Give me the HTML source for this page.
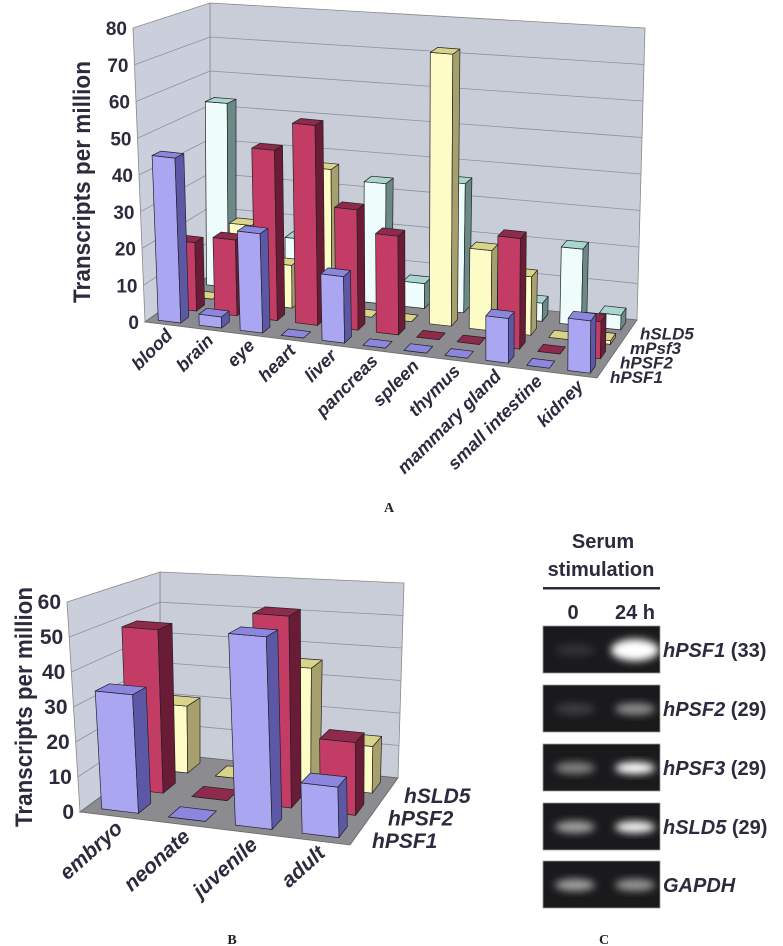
<!DOCTYPE html>
<html><head><meta charset="utf-8"><style>
html,body{margin:0;padding:0;background:#fff;}
svg{display:block;font-family:"Liberation Sans",sans-serif;}
</style></head><body>
<svg id="fig" width="783" height="946" viewBox="0 0 783 946" xmlns="http://www.w3.org/2000/svg">
<defs><filter id="blur" x="-50%" y="-50%" width="200%" height="200%"><feGaussianBlur stdDeviation="4"/></filter></defs>
<g id="chartA"></g>
<g id="chartB"></g>
<g id="panelC">
  <text x="603" y="548" text-anchor="middle" font-size="20" font-weight="bold" fill="#2b2b3d">Serum</text>
  <text x="601" y="576" text-anchor="middle" font-size="20" font-weight="bold" fill="#2b2b3d">stimulation</text>
  <rect x="543" y="587" width="117" height="2.5" fill="#2b2b3d"/>
  <text x="573" y="619" text-anchor="middle" font-size="20" font-weight="bold" fill="#2b2b3d">0</text>
  <text x="635" y="619" text-anchor="middle" font-size="20" font-weight="bold" fill="#2b2b3d">24 h</text>
</g>
<text x="389" y="512" text-anchor="middle" font-family="Liberation Serif,serif" font-weight="bold" font-size="14" fill="#222">A</text>
<text x="232" y="944" text-anchor="middle" font-family="Liberation Serif,serif" font-weight="bold" font-size="14" fill="#222">B</text>
<text x="604" y="944" text-anchor="middle" font-family="Liberation Serif,serif" font-weight="bold" font-size="14" fill="#222">C</text>
</svg>
<script>
// ---- Chart A data ----
const categoriesA = ["blood","brain","eye","heart","liver","pancreas","spleen","thymus","mammary gland","small intestine","kidney"];
const seriesNamesA = ["hPSF1","hPSF2","mPsf3","hSLD5"];
const hPSF1_A = [45, 3, 27, 0, 18, 0, 0, 0, 12, 0, 14];
const hPSF2_A = [19, 21, 47, 55, 33, 27, 0, 0, 30, 0, 10];
const mPsf3_A = [0, 22, 12, 40, 0, 0, 75, 22, 16, 0, 1];
const hSLD5_A = [53, 2, 16, 8, 34, 7, 36, 15, 5, 21, 4];
const ticksA = [0,10,20,30,40,50,60,70,80];
// ---- Chart B data ----
const categoriesB = ["embryo","neonate","juvenile","adult"];
const seriesNamesB = ["hPSF1","hPSF2","hSLD5"];
const hPSF1_B = [34, 0, 54, 14];
const hPSF2_B = [49, 0, 56, 21];
const hSLD5_B = [21, 0, 36, 14];
const ticksB = [0,10,20,30,40,50,60];
// ---- Panel C data ----
const gelGenes = ["hPSF1","hPSF2","hPSF3","hSLD5","GAPDH"];
const gelCycles = ["(33)","(29)","(29)","(29)",""];
const lane0Intensity = [0.1, 0.15, 0.45, 0.6, 0.6];
const lane24Intensity = [1.0, 0.5, 1.0, 0.95, 0.55];

const NS = "http://www.w3.org/2000/svg";
const COLORS = {
  purple:{front:"#aaa6f2",side:"#5d58a6",top:"#8c86de"},
  red:{front:"#c23c66",side:"#6a1c36",top:"#8e2a4c"},
  yellow:{front:"#fdfbc6",side:"#a8a06c",top:"#d9d489"},
  white:{front:"#eefcfb",side:"#6b8a87",top:"#a9d6cf"}
};
function mk(tag, parent){const e=document.createElementNS(NS,tag);parent.appendChild(e);return e;}
function lerp(a,b,t){return [a[0]+(b[0]-a[0])*t,a[1]+(b[1]-a[1])*t];}
function makeProj(cfg){
  return function(u,w,v){
    const fb=lerp(cfg.FL,cfg.FR,u), bb=lerp(cfg.BL,cfg.BR,u), bot=lerp(fb,bb,w);
    const ft=lerp(cfg.TFL,cfg.TFR,u), bt=lerp(cfg.TBL,cfg.TBR,u), top=lerp(ft,bt,w);
    return lerp(bot,top,v/cfg.vmax);
  };
}
function pts(a){return a.map(p=>p[0].toFixed(1)+","+p[1].toFixed(1)).join(" ");}

function drawChart(g, cfg, categories, seriesNames, series, colors, ticks){
  const P=makeProj(cfg), n=categories.length, m=series.length;
  const back=mk("polygon",g);
  back.setAttribute("points",pts([P(0,1,0),P(0,1,cfg.vmax),P(1,1,cfg.vmax),P(1,1,0)]));
  back.setAttribute("fill","#c9cdd8");back.setAttribute("stroke","#888");back.setAttribute("stroke-width","0.8");
  
  
  const left=mk("polygon",g);
  left.setAttribute("points",pts([P(0,0,0),P(0,0,cfg.vmax),P(0,1,cfg.vmax),P(0,1,0)]));
  left.setAttribute("fill","#cbcfdb");left.setAttribute("stroke","#888");left.setAttribute("stroke-width","0.8");
  
  
  const floor=mk("polygon",g);
  floor.setAttribute("points",pts([P(0,0,0),P(1,0,0),P(1,1,0),P(0,1,0)]));
  floor.setAttribute("fill","#8b8b90");floor.setAttribute("stroke","#666");floor.setAttribute("stroke-width","0.8");
  
  
  ticks.forEach(t=>{
    if(t>0 && t<cfg.vmax){
      const gl=mk("polyline",g);
      gl.setAttribute("points",pts([P(0,0,t),P(0,1,t),P(1,1,t)]));
      gl.setAttribute("fill","none");gl.setAttribute("stroke","#8d92a0");gl.setAttribute("stroke-width","0.8");
      
      
    }
    const p=P(0,0,t);
    const tx=mk("text",g);
    tx.setAttribute("x",(p[0]-cfg.tickGap).toFixed(1));tx.setAttribute("y",(p[1]+7).toFixed(1));
    tx.setAttribute("text-anchor","end");tx.setAttribute("font-size",cfg.tickSize);tx.setAttribute("font-weight","bold");
    tx.setAttribute("fill","#2b2b3d");tx.textContent=t;
    
    
  });
  const bw=0.55, bd=0.5;
  for(let j=m-1;j>=0;j--){
    for(let i=0;i<n;i++){
      const v=series[j][i];
      const u0=(i+0.5-bw/2)/n,u1=(i+0.5+bw/2)/n,w0=(j+0.5-bd/2)/m,w1=(j+0.5+bd/2)/m;
      const c=colors[j];
      const bar=mk("g",g);
      
      
      const faces=[
        [[P(u0,w0,0),P(u1,w0,0),P(u1,w0,v),P(u0,w0,v)],c.front],
        [[P(u1,w0,0),P(u1,w1,0),P(u1,w1,v),P(u1,w0,v)],c.side],
        [[P(u0,w0,v),P(u1,w0,v),P(u1,w1,v),P(u0,w1,v)],c.top]
      ];
      faces.forEach(f=>{
        const pg=mk("polygon",bar);
        pg.setAttribute("points",pts(f[0]));pg.setAttribute("fill",f[1]);
        pg.setAttribute("stroke","#222");pg.setAttribute("stroke-width","0.7");pg.setAttribute("stroke-linejoin","round");
      });
    }
  }
  categories.forEach((cName,i)=>{
    const p=P((i+0.5)/n,0,0);
    const tx=mk("text",g);
    const x=p[0]+cfg.catDx,y=p[1]+cfg.catDy;
    tx.setAttribute("x",x.toFixed(1));tx.setAttribute("y",y.toFixed(1));
    tx.setAttribute("text-anchor","end");tx.setAttribute("font-size",cfg.catSize);
    tx.setAttribute("font-weight","bold");tx.setAttribute("font-style","italic");tx.setAttribute("fill","#2b2b3d");
    tx.setAttribute("transform","rotate("+cfg.catAngle+" "+x.toFixed(1)+" "+y.toFixed(1)+")");
    tx.textContent=cName;
    
    
  });
  seriesNames.forEach((s,j)=>{
    const p=P(1,(j+0.5)/m,0);
    const tx=mk("text",g);
    tx.setAttribute("x",(p[0]+cfg.serDx).toFixed(1));tx.setAttribute("y",(p[1]+cfg.serDy).toFixed(1));
    tx.setAttribute("font-size",cfg.serSize);tx.setAttribute("font-weight","bold");tx.setAttribute("font-style","italic");
    tx.setAttribute("fill","#2b2b3d");tx.textContent=s;
    
    
  });
  const yt=mk("text",g);
  yt.setAttribute("x",cfg.titleX);yt.setAttribute("y",cfg.titleY);yt.setAttribute("text-anchor","middle");
  yt.setAttribute("font-size",cfg.titleSize);yt.setAttribute("font-weight","bold");yt.setAttribute("fill","#2b2b3d");
  yt.setAttribute("textLength",cfg.titleLen);yt.setAttribute("lengthAdjust","spacingAndGlyphs");
  yt.setAttribute("transform","rotate(-90 "+cfg.titleX+" "+cfg.titleY+")");
  yt.textContent="Transcripts per million";
  
  
}

drawChart(document.getElementById("chartA"),{
  FL:[145,322],FR:[597,378],BL:[210,275],BR:[637,320],
  TFL:[133,28],TFR:[600,78],TBL:[210,3],TBR:[645,28],vmax:80,
  tickGap:6,tickSize:19,catDx:8,catDy:12,catAngle:-45,catSize:18,
  serDx:8,serDy:12,serSize:17,titleX:90,titleY:182,titleSize:24,titleLen:242
},categoriesA,seriesNamesA,[hPSF1_A,hPSF2_A,mPsf3_A,hSLD5_A],
[COLORS.purple,COLORS.red,COLORS.yellow,COLORS.white],ticksA);

drawChart(document.getElementById("chartB"),{
  FL:[80,812],FR:[350,845],BL:[160,753],BR:[398,778],
  TFL:[67,602],TFR:[345,626],TBL:[160,572],TBR:[404,583],vmax:60,
  tickGap:6,tickSize:21,catDx:10,catDy:14,catAngle:-42,catSize:21,
  serDx:14,serDy:14,serSize:21,titleX:32,titleY:707,titleSize:24,titleLen:240
},categoriesB,seriesNamesB,[hPSF1_B,hPSF2_B,hSLD5_B],
[COLORS.purple,COLORS.red,COLORS.yellow],ticksB);

(function(){
  const g=document.getElementById("panelC");
  const tops=[626,685,744,803,861];
  gelGenes.forEach((gene,k)=>{
    const y=tops[k];
    const r=mk("rect",g);
    r.setAttribute("x",543);r.setAttribute("y",y);r.setAttribute("width",117);r.setAttribute("height",47);
    r.setAttribute("fill","#1a1a1c");r.setAttribute("stroke","#9a9a9a");r.setAttribute("stroke-width","0.8");
    
    
    [[575,lane0Intensity[k]],[635,lane24Intensity[k]]].forEach(b=>{
      const e=mk("ellipse",g);
      e.setAttribute("cx",b[0]);e.setAttribute("cy",y+24);e.setAttribute("rx",k===0&&b[0]===635?24:20);
      e.setAttribute("ry",k===0&&b[0]===635?11:6);
      e.setAttribute("fill","#ffffff");e.setAttribute("opacity",b[1].toFixed(2));e.setAttribute("filter","url(#blur)");
      
      
    });
    const t=mk("text",g);
    t.setAttribute("x",663);t.setAttribute("y",y+31);t.setAttribute("font-size",20);t.setAttribute("font-weight","bold");
    t.setAttribute("fill","#2b2b3d");
    const s1=mk("tspan",t);s1.setAttribute("font-style","italic");s1.textContent=gene;
    if(gelCycles[k]){const s2=mk("tspan",t);s2.textContent=" "+gelCycles[k];}
    
    
  });
})();
</script>
</body></html>
